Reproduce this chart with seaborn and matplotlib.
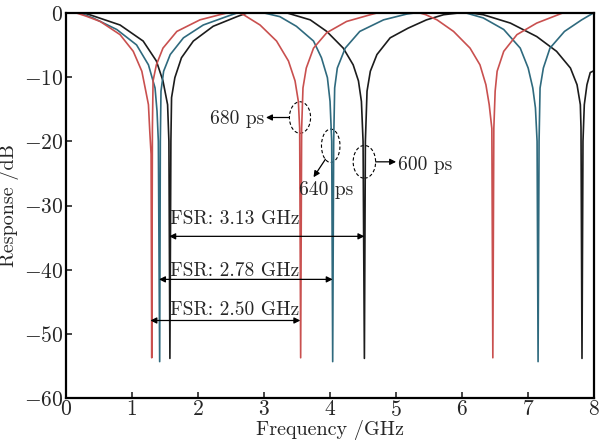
import pandas as pd
import matplotlib
matplotlib.use("Agg")
import matplotlib.pyplot as plt
from matplotlib.patches import Ellipse
import seaborn as sns

# values
red_x = [0.00, 0.15, 0.30, 0.52, 0.82, 1.02, 1.15, 1.21, 1.25, 1.27, 1.29, 1.30, 1.31, 1.32, 1.37, 1.47, 1.68, 2.03, 2.33, 2.45,
         2.62, 2.69, 2.94, 3.19, 3.37, 3.47, 3.52, 3.54, 3.555, 3.57, 3.59, 3.64, 3.75, 3.95, 4.25, 4.61, 4.72,
         5.35, 5.45, 5.62, 5.87, 6.12, 6.27, 6.36, 6.41, 6.45, 6.465, 6.48, 6.50, 6.53, 6.63, 6.83, 7.13, 7.43, 7.53, 8.00]
red_y = [0.0, 0.0, -0.5, -1.35, -3.4, -6.0, -9.1, -12.2, -14.3, -18.4, -22, -53.7, -18, -10.6, -8.1, -5.5, -2.9, -1.1, -0.3, 0.0,
         0.0, -0.3, -1.9, -4.4, -7.5, -10.6, -13.8, -18, -53.7, -18, -11.7, -8.6, -5.5, -3.1, -1.35, -0.3, 0.0,
         0.0, -0.3, -1.1, -2.9, -5.5, -8.1, -11.2, -14.3, -18, -53.7, -18, -12.2, -9.1, -6.0, -3.4, -1.6, -0.4, 0.0, 0.0]

teal_x = [0.00, 0.20, 0.41, 0.77, 1.07, 1.25, 1.35, 1.38, 1.40, 1.42, 1.43, 1.44, 1.48, 1.58, 1.78, 2.08, 2.43, 2.60,
          2.99, 3.24, 3.49, 3.75, 3.87, 3.96, 4.00, 4.025, 4.04, 4.055, 4.07, 4.11, 4.23, 4.45, 4.81, 5.16, 5.30,
          6.05, 6.32, 6.63, 6.88, 7.00, 7.07, 7.11, 7.135, 7.15, 7.165, 7.18, 7.23, 7.33, 7.55, 7.81, 7.96, 8.00]
teal_y = [0.0, 0.0, -0.8, -2.6, -5.0, -8.1, -11.7, -15.3, -20, -54.3, -20, -12.2, -9.1, -6.5, -3.9, -1.9, -0.6, 0.0,
          0.0, -0.6, -2.1, -4.4, -7.0, -10.1, -13.8, -20, -54.3, -20, -11.7, -8.6, -5.5, -2.9, -1.1, -0.2, 0.0,
          0.0, -0.8, -2.6, -5.5, -8.6, -11.7, -14.8, -20, -54.3, -20, -11.7, -8.6, -5.5, -2.9, -1.1, -0.2, 0.0]

black_x = [0.00, 0.26, 0.36, 0.82, 1.17, 1.37, 1.47, 1.54, 1.56, 1.575, 1.59, 1.60, 1.65, 1.75, 1.93, 2.23, 2.59, 2.75,
           3.34, 3.70, 3.95, 4.20, 4.35, 4.43, 4.475, 4.50, 4.52, 4.535, 4.56, 4.61, 4.71, 4.91, 5.18, 5.46, 5.72, 5.97,
           6.10, 6.32, 6.73, 7.13, 7.43, 7.64, 7.74, 7.79, 7.80, 7.815, 7.83, 7.85, 7.89, 7.94, 8.00]
black_y = [0.0, 0.0, -0.3, -1.9, -4.4, -7.5, -10.6, -14.3, -20, -53.8, -20, -13.2, -10.1, -7.0, -4.4, -2.1, -0.6, 0.0,
           0.0, -1.1, -2.9, -5.5, -8.1, -10.6, -13.8, -20, -53.8, -20, -12.2, -9.1, -6.5, -3.9, -2.4, -1.1, -0.3, 0.0,
           0.0, -0.3, -1.6, -3.7, -6.0, -8.6, -11.2, -14.3, -17.9, -53.8, -20, -14.3, -11.2, -9.3, -9.0]

delays = ["600 ps", "640 ps", "680 ps"]
colors = {"600 ps": "#1c1c1c", "640 ps": "#2f6a7e", "680 ps": "#c9504f"}

df = pd.concat([
    pd.DataFrame({"freq": black_x, "resp": black_y, "delay": "600 ps"}),
    pd.DataFrame({"freq": teal_x, "resp": teal_y, "delay": "640 ps"}),
    pd.DataFrame({"freq": red_x, "resp": red_y, "delay": "680 ps"}),
])

sns.set_style("ticks")
plt.rcParams["font.family"] = ["cmr10"]
plt.rcParams["mathtext.fontset"] = "cm"
plt.rcParams["axes.formatter.use_mathtext"] = True
plt.rcParams["font.size"] = 14

fig = plt.figure(figsize=(5.99, 4.41), dpi=100)
ax = fig.add_axes([0.110, 0.097, 0.882, 0.874])

sns.lineplot(data=df, x="freq", y="resp", hue="delay", hue_order=delays, palette=colors,
             estimator=None, sort=False, legend=False, lw=1.2, ax=ax)

ax.set_xlim(0, 8)
ax.set_ylim(-60, 0)
ax.set_xticks(range(0, 9))
ax.set_yticks(range(-60, 1, 10))
ax.tick_params(direction="in", length=4, width=1.2, labelsize=15.5, top=False, right=False, pad=2)
ax.tick_params(axis="x", pad=1)
for s in ax.spines.values():
    s.set_linewidth(1.6)
    s.set_color("black")
ax.set_xlabel("Frequency /GHz", fontsize=14.5, labelpad=0)
ax.set_ylabel("Response /dB", fontsize=14.5, labelpad=3)

# FSR arrows and labels
fsr_text = ["FSR: 3.13 GHz", "FSR: 2.78 GHz", "FSR: 2.50 GHz"]
fsr_start = [1.565, 1.41, 1.28]
fsr_end = [4.52, 4.04, 3.55]
fsr_level = [-34.8, -41.5, -47.9]
fsr_text_y = [-32.9, -40.9, -47.1]
for t, x0, x1, yy, ty in zip(fsr_text, fsr_start, fsr_end, fsr_level, fsr_text_y):
    ax.annotate("", xy=(x1, yy), xytext=(x0, yy),
                arrowprops=dict(arrowstyle="<|-|>", color="k", lw=0.9, mutation_scale=9,
                                shrinkA=0, shrinkB=0))
    ax.text(1.575, ty, t, ha="left", va="baseline", fontsize=14)

# dashed ellipses marking the notches
ell_x = [3.545, 4.01, 4.52]
ell_y = [-16.3, -20.7, -23.2]
ell_w = [0.32, 0.28, 0.34]
ell_h = [4.9, 5.2, 5.1]
for cx, cy, w, h in zip(ell_x, ell_y, ell_w, ell_h):
    ax.add_patch(Ellipse((cx, cy), w, h, fill=False, ls=(0, (3, 2)), lw=0.8, color="k"))

arrow_kw = dict(arrowstyle="-|>", color="k", lw=0.9, mutation_scale=9, shrinkA=0, shrinkB=0)
ax.annotate("", xy=(3.03, -16.3), xytext=(3.38, -16.3), arrowprops=arrow_kw)
ax.text(3.0, -17.3, "680 ps", ha="right", va="baseline", fontsize=14)
ax.annotate("", xy=(3.75, -25.6), xytext=(3.93, -22.8), arrowprops=arrow_kw)
ax.text(3.53, -28.3, "640 ps", ha="left", va="baseline", fontsize=14)
ax.annotate("", xy=(5.0, -23.2), xytext=(4.69, -23.2), arrowprops=arrow_kw)
ax.text(5.03, -24.4, "600 ps", ha="left", va="baseline", fontsize=14)

plt.savefig("out.png", dpi=100)
